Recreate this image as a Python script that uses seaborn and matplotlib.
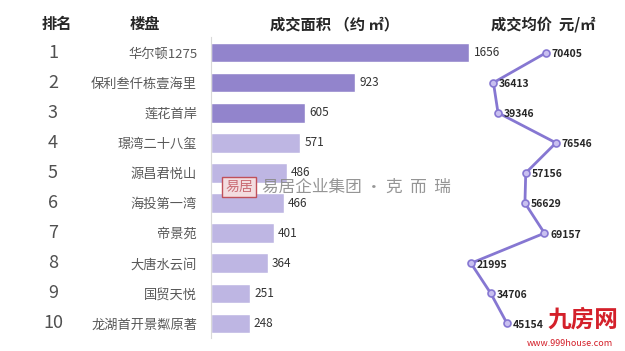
import matplotlib
matplotlib.use("Agg")
import matplotlib.pyplot as plt
import matplotlib.transforms as mtransforms
import numpy as np
import seaborn as sns

# 数据
ranks = ["1", "2", "3", "4", "5", "6", "7", "8", "9", "10"]
names = ["华尔顿1275", "保利叁仟栋壹海里", "莲花首岸", "璟湾二十八玺", "源昌君悦山",
         "海投第一湾", "帝景苑", "大唐水云间", "国贸天悦", "龙湖首开景粼原著"]
area = [1656, 923, 605, 571, 486, 466, 401, 364, 251, 248]
price = [70405, 36413, 39346, 76546, 57156, 56629, 69157, 21995, 34706, 45154]
headers = ["排名", "楼盘", "成交面积 （约 ㎡）", "成交均价  元/㎡"]

dark = "#8b78d8"
light = "#b9aeea"
bar_colors = [dark] * 3 + [light] * 7
line_color = "#8677d2"

sns.set_style("white")
plt.rcParams["font.family"] = ["Noto Sans CJK SC", "DejaVu Sans"]

fig = plt.figure(figsize=(6.25, 3.51), dpi=100)
W, H = 625, 351
bottom = (H - 338.5) / H
height = 301 / H

# 左边：成交面积 条形图
ax = fig.add_axes([211 / W, bottom, 414 / W, height])
sns.barplot(x=area, y=names, hue=names, palette=bar_colors, legend=False,
            orient="h", width=0.65, ax=ax)
ax.set_xlim(0, 2654)
ax.set_ylim(len(names) - 0.5, -0.5)
ax.set_xlabel("")
ax.set_ylabel("")
ax.set_xticks([])
ax.tick_params(axis="y", length=0, pad=10, labelsize=9.5, labelcolor="#595959")
for s in ["top", "right", "bottom"]:
    ax.spines[s].set_visible(False)
ax.spines["left"].set_color("#d9d9d9")
ax.spines["left"].set_linewidth(0.8)
ax.patch.set_alpha(0)

for i, v in enumerate(area):
    ax.annotate(str(v), (v, i), xytext=(3, 0), textcoords="offset points",
                va="center", ha="left", fontsize=8.5, color="#333333")

# 排名
trans = mtransforms.blended_transform_factory(fig.transFigure, ax.transData)
for i, r in enumerate(ranks):
    ax.text(53 / W, i, r, transform=trans, ha="center", va="center",
            fontsize=13, color="#505050")

# 右边：成交均价 折线
ax2 = fig.add_axes([436.7 / W, bottom, 188.3 / W, height])
ypos = np.arange(len(price))
sns.lineplot(x=price, y=ypos, sort=False, color=line_color, linewidth=2,
             marker="o", markersize=5, markerfacecolor="#c9c0f0",
             markeredgecolor=line_color, markeredgewidth=1.2, ax=ax2)
ax2.set_xlim(0, 120860)
ax2.set_ylim(len(price) - 0.5, -0.5)
ax2.axis("off")
for i, v in enumerate(price):
    ax2.annotate(str(v), (v, i), xytext=(4, -1), textcoords="offset points",
                 va="center", ha="left", fontsize=7.5, fontweight="bold",
                 color="#262626")

# 表头
header_x = [57, 145, 334, 543]
for hx, t in zip(header_x, headers):
    fig.text(hx / W, 1 - 24 / H, t, ha="center", va="center",
             fontsize=11, fontweight="bold", color="#262626")

# 水印标志
fig.text(239 / W, 1 - 187 / H, "易居", ha="center", va="center", fontsize=10,
         color="#c0505a", alpha=0.8,
         bbox=dict(boxstyle="square,pad=0.2", fc="#f3dde0", ec="#c0505a", lw=1))
fig.text(262 / W, 1 - 187.5 / H, "易居企业集团 • 克  而  瑞", ha="left", va="center",
         fontsize=12, color="#8a8a8a", alpha=0.9)
fig.text(583 / W, 1 - 320 / H, "九房网", ha="center", va="center",
         fontsize=17, fontweight="bold", color="#d4202a")
fig.text(570 / W, 1 - 343 / H, "www.999house.com", ha="center", va="center",
         fontsize=6.5, color="#d4202a")

plt.savefig("out.png", dpi=100)
